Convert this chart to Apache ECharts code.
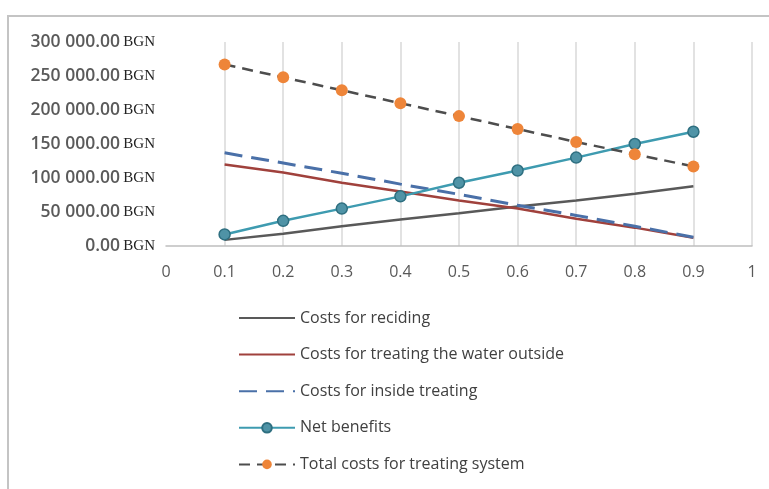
<!DOCTYPE html>
<html>
<head>
<meta charset="utf-8">
<script src="https://cdn.jsdelivr.net/npm/echarts@6/dist/echarts.min.js"></script>
<style>
html,body{margin:0;padding:0;background:#fff;}
#chart{width:769px;height:489px;}
</style>
</head>
<body>
<div id="chart"></div>
<script>
// Data (x = share, y = BGN)
var xValues = [0.1, 0.2, 0.3, 0.4, 0.5, 0.6, 0.7, 0.8, 0.9];
var costsReciding = [9000, 18000, 29000, 39000, 48000, 58000, 67000, 77000, 88000];
var costsOutside = [120000, 108000, 93000, 80000, 67000, 55000, 40000, 27000, 12000];
var costsInside = [137000, 122000, 107000, 91000, 76000, 60000, 45000, 29000, 13000];
var netBenefits = [17000, 37000, 55000, 73000, 93000, 111000, 130000, 150000, 168000];
var totalCosts = [267000, 248000, 229000, 210000, 191000, 172000, 153000, 135000, 117000];
var seriesNames = ['Costs for reciding', 'Costs for treating the water outside', 'Costs for inside treating', 'Net benefits', 'Total costs for treating system'];

function pairs(ys) { return xValues.map(function (x, i) { return [x, ys[i]]; }); }

function yFmt(v) {
  var s = v.toFixed(2).split('.');
  var g = s[0].replace(/\B(?=(\d{3})+(?!\d))/g, ' ');
  return '{n|' + g + '.' + s[1] + '} {b|BGN}';
}

var chart = echarts.init(document.getElementById('chart'));
chart.setOption({
  animation: false,
  backgroundColor: '#ffffff',
  grid: { left: 166, right: 17, top: 42, bottom: 243 },
  graphic: [{
    type: 'polyline',
    shape: { points: [[8, 489], [8, 16], [769, 16]] },
    style: { stroke: '#c4c4c4', lineWidth: 2, fill: null },
    silent: true
  }],
  xAxis: {
    type: 'value', min: 0, max: 1, interval: 0.1,
    axisLine: { show: true, lineStyle: { color: '#bfbfbf', width: 1.5 } },
    axisTick: { show: false },
    axisLabel: { color: '#595959', fontSize: 16, fontFamily: 'Open Sans', margin: 18,
      formatter: function (v) { return v === 0 ? '0' : (v === 1 ? '1' : v.toFixed(1)); } },
    splitLine: { show: true, showMinLine: false, lineStyle: { color: '#d9d9d9', width: 1.5 } }
  },
  yAxis: {
    type: 'value', min: 0, max: 300000, interval: 50000,
    axisLine: { show: false }, axisTick: { show: false },
    splitLine: { show: false },
    axisLabel: {
      margin: 11, formatter: yFmt,
      rich: {
        n: { fontFamily: 'Open Sans', fontSize: 17.5, color: '#5a5a5a', fontWeight: 600 },
        b: { fontFamily: 'Liberation Serif', fontSize: 15, color: '#222222' }
      }
    }
  },
  legend: {
    orient: 'vertical', left: 238, top: 309, padding: 0,
    itemWidth: 56, itemHeight: 12, itemGap: 18.6,
    textStyle: { fontFamily: 'Open Sans', fontSize: 16, color: '#404040', lineHeight: 18 },
    data: [
      { name: seriesNames[0], itemStyle: { opacity: 0 } },
      { name: seriesNames[1], itemStyle: { opacity: 0 } },
      { name: seriesNames[2], itemStyle: { opacity: 0 } },
      { name: seriesNames[3] },
      { name: seriesNames[4] }
    ]
  },
  series: [
    { name: seriesNames[0], type: 'line', data: pairs(costsReciding), symbol: 'none',
      lineStyle: { color: '#595959', width: 2.5 }, itemStyle: { color: '#595959' } },
    { name: seriesNames[1], type: 'line', data: pairs(costsOutside), symbol: 'none',
      lineStyle: { color: '#a0413c', width: 2.5 }, itemStyle: { color: '#a0413c' } },
    { name: seriesNames[2], type: 'line', data: pairs(costsInside), symbol: 'none',
      lineStyle: { color: '#4a70a8', width: 3, type: [18, 9] }, itemStyle: { color: '#4a70a8' } },
    { name: seriesNames[3], type: 'line', data: pairs(netBenefits), symbol: 'circle', symbolSize: 11,
      lineStyle: { color: '#3e9bb0', width: 2.5 },
      itemStyle: { color: '#4f93a6', borderColor: '#2e6f80', borderWidth: 1.5 } },
    { name: seriesNames[4], type: 'line', data: pairs(totalCosts), symbol: 'circle', symbolSize: 12,
      lineStyle: { color: '#4d4d4d', width: 2.5, type: [11, 7] },
      itemStyle: { color: '#ee8539', borderColor: '#ee8539', borderWidth: 0 } }
  ]
});
</script>
</body>
</html>
